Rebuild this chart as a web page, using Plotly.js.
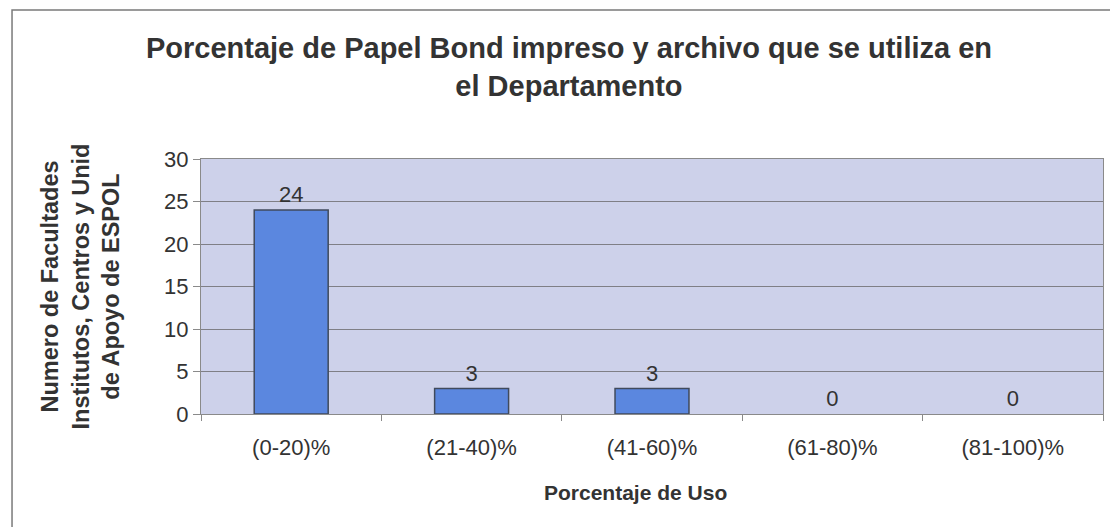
<!DOCTYPE html>
<html>
<head>
<meta charset="utf-8">
<script src="https://cdn.plot.ly/plotly-3.0.1.min.js"></script>
<style>
html,body{margin:0;padding:0;background:#fff;}
#chart{width:1110px;height:527px;}
</style>
</head>
<body>
<div id="chart"></div>
<script>
const categories = ["(0-20)%", "(21-40)%", "(41-60)%", "(61-80)%", "(81-100)%"];
const values = [24, 3, 3, 0, 0];
const yTicks = [0, 5, 10, 15, 20, 25, 30];
const xTitle = "Porcentaje de Uso";

const font = "Liberation Sans, Arial, sans-serif";

const trace = {
  type: "bar",
  x: categories,
  y: values,
  width: 0.41,
  marker: {color: "#5b87df", line: {color: "#404a5c", width: values.map(v => v > 0 ? 1.5 : 0)}},
  text: values.map(String),
  textposition: "outside",
  cliponaxis: false,
  textfont: {family: font, size: 22, color: "#333333"},
  hoverinfo: "x+y"
};

const layout = {
  width: 1110,
  height: 527,
  margin: {l: 201, r: 7, t: 159, b: 113},
  paper_bgcolor: "#ffffff",
  plot_bgcolor: "#cdd1ea",
  showlegend: false,
  title: {
    text: "<b>Porcentaje de Papel Bond impreso y archivo que se utiliza en<br>el Departamento</b>",
    font: {family: font, size: 29, color: "#333333"},
    xref: "container", x: 0.5126, xanchor: "center",
    yref: "container", y: 0.889, yanchor: "middle"
  },
  xaxis: {
    type: "category",
    showline: true, linecolor: "#8a8a8a", linewidth: 1, mirror: true,
    ticks: "outside", tickson: "boundaries", ticklen: 6, tickcolor: "#8a8a8a",
    ticklabelstandoff: 14,
    tickfont: {family: font, size: 22, color: "#333333"},
    showgrid: false
  },
  yaxis: {
    range: [0, 30],
    tickvals: yTicks,
    showline: true, linecolor: "#8a8a8a", linewidth: 1, mirror: true,
    ticks: "outside", ticklen: 7, tickcolor: "#8a8a8a",
    tickfont: {family: font, size: 22, color: "#333333"},
    showgrid: true, gridcolor: "#7f7f86", gridwidth: 1,
    zeroline: false,
    title: {text: "<b>Numero de Facultades<br>Institutos, Centros y Unid<br>de Apoyo de ESPOL</b>", font: {family: font, size: 23.5, color: "#333333"}, standoff: 37}
  },
  annotations: [{
    text: "<b>" + xTitle + "</b>",
    xref: "paper", yref: "paper", x: 0.482, y: -0.306,
    xanchor: "center", yanchor: "middle", showarrow: false,
    font: {family: font, size: 21, color: "#333333"}
  }],
  shapes: [{
    type: "rect", xref: "paper", yref: "paper",
    x0: -0.2095, x1: 1.05, y0: -0.6, y1: 1.584,
    line: {color: "#7a7a7a", width: 1.5}, fillcolor: "rgba(0,0,0,0)", layer: "below"
  }]
};

Plotly.newPlot("chart", [trace], layout, {displayModeBar: false, staticPlot: true});
</script>
</body>
</html>
